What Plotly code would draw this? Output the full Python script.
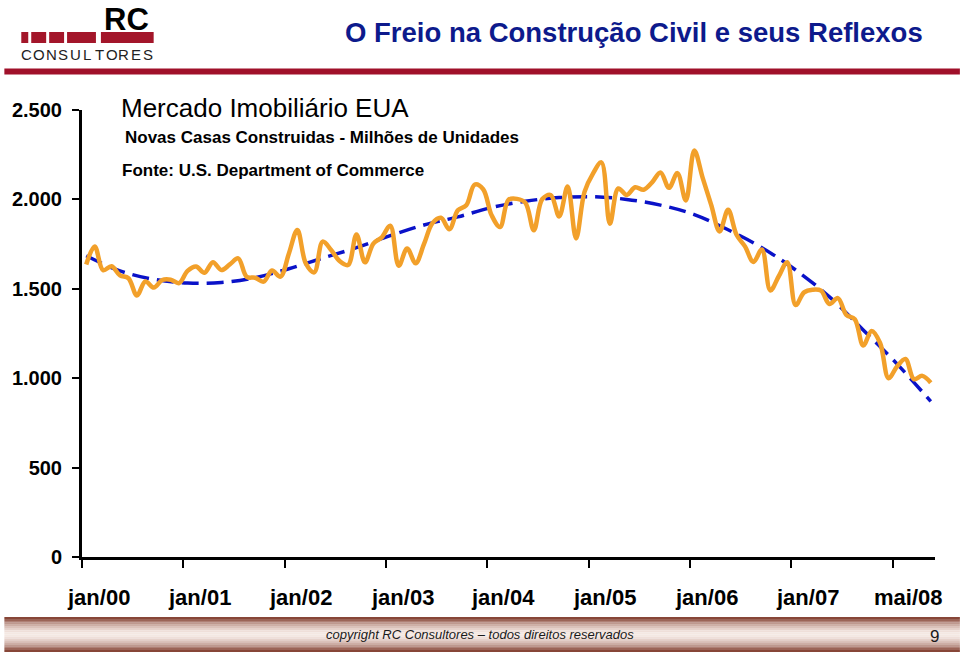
import plotly.graph_objects as go

# ---------------- data ----------------
starts = [
    1636, 1737, 1604, 1626, 1575, 1559, 1463, 1541, 1507, 1549, 1551, 1532,   # 2000
    1600, 1625, 1590, 1649, 1605, 1636, 1670, 1567, 1562, 1540, 1602, 1568,   # 2001
    1698, 1829, 1642, 1592, 1764, 1717, 1655, 1633, 1804, 1648, 1753, 1788,   # 2002
    1853, 1629, 1726, 1643, 1751, 1867, 1897, 1833, 1939, 1967, 2083, 2057,   # 2003
    1911, 1846, 1998, 2003, 1981, 1828, 2002, 2024, 1905, 2072, 1782, 2042,   # 2004
    2144, 2207, 1864, 2061, 2025, 2068, 2054, 2095, 2151, 2065, 2147, 1994,   # 2005
    2273, 2119, 1969, 1821, 1942, 1802, 1737, 1650, 1720, 1491, 1570, 1649,   # 2006
    1409, 1480, 1495, 1490, 1415, 1448, 1354, 1330, 1183, 1264, 1197, 1000,   # 2007
    1065, 1107, 995, 1013, 975,                                               # 2008
]
month_idx = list(range(len(starts)))

trend_idx = [0, 4, 8, 12, 16, 20, 24, 28, 32, 36, 40, 44, 48, 52, 56, 60,
             64, 68, 72, 76, 80, 84, 88, 92, 96, 100]
trend_vals = [1685, 1600, 1553, 1532, 1535, 1562, 1612, 1672, 1730, 1797, 1857,
              1902, 1955, 1990, 2010, 2015, 2000, 1968, 1915, 1830, 1730, 1605,
              1455, 1270, 1080, 870]

x_labels = ["jan/00", "jan/01", "jan/02", "jan/03", "jan/04", "jan/05",
            "jan/06", "jan/07", "mai/08"]
y_tickvals = [0, 500, 1000, 1500, 2000, 2500]
y_ticktext = ["0", "500", "1.000", "1.500", "2.000", "2.500"]

title_text = "O Freio na Construção Civil e seus Reflexos"
chart_title = "Mercado Imobiliário EUA"
subtitle = "Novas Casas Construidas - Milhões de Unidades"
source = "Fonte: U.S. Department of Commerce"
footer = "copyright RC Consultores – todos direitos reservados"
page_no = "9"

# ---------------- geometry helpers ----------------
W, H = 960, 652
L, R, T, B = 78, 25, 110, 95
PW, PH = W - L - R, H - T - B


def fx(px):
    return (px - L) / PW


def fy(py):
    return (H - B - py) / PH


FONT = "Liberation Sans, Arial, Helvetica, sans-serif"

fig = go.Figure()
fig.add_trace(go.Scatter(
    x=trend_idx, y=trend_vals, mode="lines",
    line=dict(color="#0A12C8", width=3.5, dash="17px,8px", shape="spline", smoothing=1.0),
    hoverinfo="skip", showlegend=False))
fig.add_trace(go.Scatter(
    x=month_idx, y=starts, mode="lines",
    line=dict(color="#F2A02A", width=4.5, shape="spline", smoothing=1.0),
    showlegend=False))

tick_pos = [-0.5 + 12 * k for k in range(len(x_labels))]
label_pos = [1.4 + 12 * k for k in range(len(x_labels))]

annotations = []
for pos, lab in zip(label_pos, x_labels):
    annotations.append(dict(x=pos, y=fy(597), xref="x", yref="paper", text=lab,
                            showarrow=False, xanchor="center", yanchor="middle",
                            font=dict(family=FONT, size=22, color="black", weight="bold")))

annotations += [
    dict(x=fx(925), y=fy(32), xref="paper", yref="paper", text=title_text,
         showarrow=False, xanchor="right", yanchor="middle",
         font=dict(family=FONT, size=27.5, color="#0D1A8C", weight="bold")),
    dict(x=fx(115), y=fy(108), xref="paper", yref="paper", text=chart_title,
         showarrow=False, xanchor="left", yanchor="middle",
         font=dict(family=FONT, size=26, color="black")),
    dict(x=fx(119), y=fy(138), xref="paper", yref="paper", text=subtitle,
         showarrow=False, xanchor="left", yanchor="middle",
         font=dict(family=FONT, size=17, color="black", weight="bold")),
    dict(x=fx(116), y=fy(171), xref="paper", yref="paper", text=source,
         showarrow=False, xanchor="left", yanchor="middle",
         font=dict(family=FONT, size=17, color="black", weight="bold")),
    dict(x=fx(123), y=fy(0.5), xref="paper", yref="paper", text="RC",
         showarrow=False, xanchor="center", yanchor="top", borderpad=0,
         font=dict(family=FONT, size=31, color="black", weight="bold")),
    dict(x=fx(478), y=fy(634), xref="paper", yref="paper", text="<i>" + footer + "</i>",
         showarrow=False, xanchor="center", yanchor="middle",
         font=dict(family=FONT, size=13, color="#1a1a1a")),
    dict(x=fx(934), y=fy(636), xref="paper", yref="paper", text=page_no,
         showarrow=False, xanchor="center", yanchor="middle",
         font=dict(family=FONT, size=17, color="#1a1a1a")),
]

# CONSULTORES letter-spaced
for i, ch in enumerate("CONSULTORES"):
    annotations.append(dict(x=fx(22.5 + i * 12.2), y=fy(55), xref="paper", yref="paper",
                            text=ch, showarrow=False, xanchor="center", yanchor="middle",
                            font=dict(family=FONT, size=15, color="#222222")))

shapes = []
RED = "#A3162A"
for x0, x1 in [(17, 24), (27, 42), (45, 60), (63, 92), (97, 150)]:
    shapes.append(dict(type="rect", xref="paper", yref="paper",
                       x0=fx(x0), x1=fx(x1), y0=fy(43), y1=fy(32),
                       fillcolor=RED, line=dict(width=0), layer="above"))
shapes.append(dict(type="rect", xref="paper", yref="paper",
                   x0=fx(0), x1=fx(960), y0=fy(74.5), y1=fy(68.5),
                   fillcolor="#A0102A", line=dict(width=0)))

# footer gradient bar
top, bot = 617.0, 652.0
n = 18
dark = (125, 55, 40)
light = (246, 234, 228)
for i in range(n):
    y0p = top + (bot - top) * i / n
    y1p = top + (bot - top) * (i + 1) / n
    mid = (y0p + y1p) / 2
    t = abs(mid - (top + bot) / 2) / ((bot - top) / 2)
    t = t ** 1.6
    c = tuple(int(light[k] + (dark[k] - light[k]) * t) for k in range(3))
    shapes.append(dict(type="rect", xref="paper", yref="paper",
                       x0=fx(0), x1=fx(960), y0=fy(y1p), y1=fy(y0p),
                       fillcolor="rgb(%d,%d,%d)" % c, line=dict(width=0), layer="below"))

fig.update_layout(
    width=W, height=H, autosize=False,
    margin=dict(l=L, r=R, t=T, b=B, pad=0),
    paper_bgcolor="white", plot_bgcolor="white",
    showlegend=False,
    font=dict(family=FONT, color="black"),
    annotations=annotations,
    shapes=shapes,
    xaxis=dict(range=[-0.5, 100.5], showgrid=False, zeroline=False,
               showline=True, linecolor="black", linewidth=3,
               tickmode="array", tickvals=tick_pos, showticklabels=False,
               ticks="outside", ticklen=8, tickwidth=2, tickcolor="black"),
    yaxis=dict(range=[0, 2500], showgrid=False, zeroline=False,
               showline=True, linecolor="black", linewidth=3,
               tickmode="array", tickvals=y_tickvals, ticktext=y_ticktext,
               ticks="outside", ticklen=7, tickwidth=2, tickcolor="black",
               ticklabelstandoff=6,
               tickfont=dict(family=FONT, size=20, color="black", weight="bold")),
)

fig.write_html("out.html", config={"displayModeBar": False},
               post_script="document.body.style.margin='0px';document.body.style.overflow='hidden';")
